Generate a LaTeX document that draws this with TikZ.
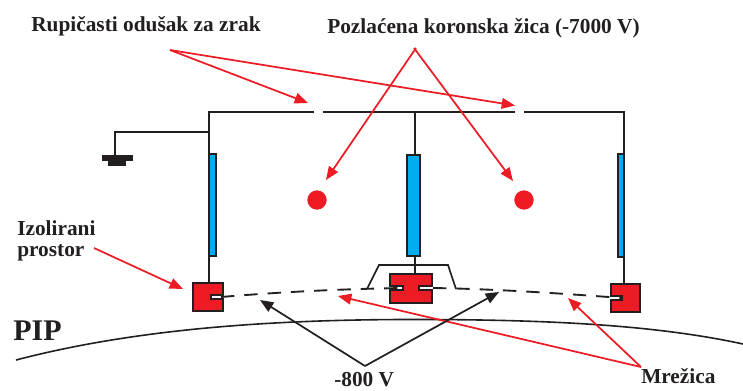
\documentclass[tikz,border=0pt]{standalone}
\usepackage{fontspec}
\setmainfont{Liberation Serif}
\usetikzlibrary{arrows.meta}
\definecolor{rd}{HTML}{ED1C24}
\definecolor{bl}{HTML}{00AEEF}
\definecolor{bk}{HTML}{231F20}
\tikzset{
  wire/.style={draw=bk,line width=1.2pt},
  redarrow/.style={draw=rd,line width=1.3pt,-{Triangle[length=10pt,width=8pt]}},
  blackarrow/.style={draw=bk,line width=1.3pt,-{Triangle[length=10pt,width=8pt]}},
  redpart/.style={draw=bk,line width=0.9pt,fill=rd},
  bluepart/.style={draw=bk,line width=0.9pt,fill=bl},
  dot/.style={circle,fill=rd,inner sep=0pt,minimum size=14.5pt},
  lab/.style={inner sep=0pt,font=\bfseries\fontsize{16pt}{18pt}\selectfont,text=bk,anchor=base west,align=left},
  grid/.style={draw=bk,line width=1.4pt,dash pattern=on 10pt off 7.5pt}
}
\begin{document}
\begin{tikzpicture}[x=0.75pt,y=-0.75pt]
\useasboundingbox (0,0) rectangle (743,390);
% wires
\draw[wire] (314,112) -- (209,112) -- (209,283);
\draw[wire] (323,112) -- (515,112);
\draw[wire] (524,112) -- (624,112) -- (624,284);
\draw[wire] (415,112) -- (415,274);
\draw[wire] (209,132) -- (115,132) -- (115,155);
\fill[bk] (102,155) rectangle (133,161);
\fill[bk] (108,161) rectangle (126,166);
\draw[wire] (367,289) -- (379,265) -- (448,265) -- (456,289);
% blue bars
\draw[bluepart] (209.5,154) rectangle (216,256);
\draw[bluepart] (407,155) rectangle (420,256);
\draw[bluepart] (618,154) rectangle (624,257);
% red blocks
\draw[redpart] (193,283) -- (223,283) -- (223,295) -- (211,295) -- (211,299) -- (223,299) -- (223,311) -- (193,311) -- cycle;
\draw[redpart] (611,284) -- (640,284) -- (640,312) -- (611,312) -- (611,300) -- (622,300) -- (622,296) -- (611,296) -- cycle;
\draw[redpart] (390,274) -- (432,274) -- (432,286) -- (419,286) -- (419,290) -- (432,290) -- (432,303) -- (390,303) -- (390,290) -- (403,290) -- (403,286) -- (390,286) -- cycle;
% grid
\draw[grid] (221,297) .. controls (280,292) and (340,289) .. (403,288);
\draw[grid] (433,288) .. controls (495,289) and (555,293) .. (622,298);
% PIP
\draw[wire] (16,360) .. controls (150,325) and (300,319) .. (430,319.5) .. controls (560,320) and (660,326) .. (743,344);
% dots
\node[dot] (d1) at (317,200) {};
\node[dot] (d2) at (524,200) {};
% labels
\node[lab] (l1) at (31,31) {Rupičasti odušak za zrak};
\node[lab] (l2) at (327,33) {Pozlaćena koronska žica (-7000 V)};
\node[lab] (l3) at (17,235) {Izolirani};
\node[lab] (l3b) at (17,256) {prostor};
\node[lab,font=\bfseries\fontsize{22.5pt}{24pt}\selectfont] (pip) at (13,340) {PIP};
\node[lab] (l4) at (334,386.5) {-800 V};
\node[lab] (l5) at (641,383) {Mrežica};
% arrow ends
\coordinate (a1) at (170,50);
\coordinate (t1) at (308,103);
\coordinate (t2) at (515,105.5);
\coordinate (a2) at (416,48);
\coordinate (a2b) at (414,48);
\coordinate (t3) at (326,180);
\coordinate (t4) at (513,181);
\coordinate (a3) at (94,248);
\coordinate (t5) at (183,289);
\coordinate (a4) at (641,367);
\coordinate (t6) at (568,298);
\coordinate (t7) at (338,296);
\coordinate (a5) at (365,366);
\coordinate (t8) at (260,300);
\coordinate (t9) at (499,292);
\draw[redarrow] (a1) -- (t1);
\draw[redarrow] (a1) -- (t2);
\draw[redarrow] (a2) -- (t3);
\draw[redarrow] (a2b) -- (t4);
\draw[redarrow] (a3) -- (t5);
\draw[redarrow] (a4) -- (t6);
\draw[redarrow] (a4) -- (t7);
\draw[blackarrow] (a5) -- (t8);
\draw[blackarrow] (a5) -- (t9);
\end{tikzpicture}
\end{document}
